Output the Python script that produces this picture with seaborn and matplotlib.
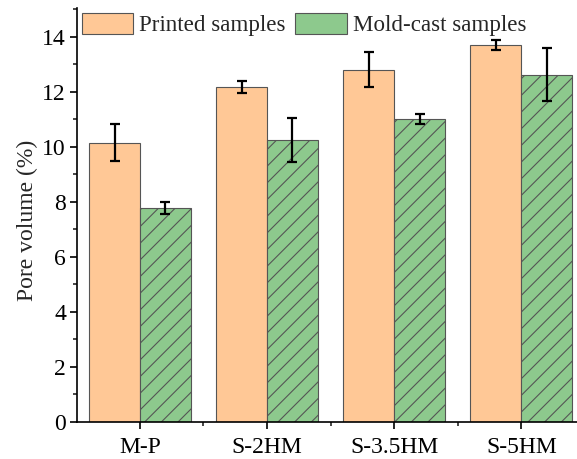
import numpy as np
import pandas as pd
import matplotlib
matplotlib.use("Agg")
import matplotlib.pyplot as plt
import seaborn as sns
from matplotlib.ticker import MultipleLocator

categories = ["M-P", "S-2HM", "S-3.5HM", "S-5HM"]
series_names = ["Printed samples", "Mold-cast samples"]
printed_values = [10.16, 12.18, 12.81, 13.71]
printed_errors = [0.66, 0.22, 0.65, 0.17]
mold_values = [7.77, 10.24, 11.00, 12.63]
mold_errors = [0.22, 0.80, 0.18, 0.95]

sns.set_theme(style="ticks")
plt.rcParams["font.family"] = ["Liberation Serif", "DejaVu Serif"]
plt.rcParams["hatch.linewidth"] = 0.8
plt.rcParams["hatch.color"] = "#2f4a2f"

df = pd.DataFrame({
    "cat": categories * 2,
    "series": [series_names[0]] * 4 + [series_names[1]] * 4,
    "value": printed_values + mold_values,
})

fig = plt.figure(figsize=(5.77, 4.59), dpi=100)
ax = fig.add_axes([77 / 577, 1 - 422 / 459, 560 / 577, (422 - 8) / 459])

palette = {series_names[0]: "#FFC896", series_names[1]: "#8DC98D"}
sns.barplot(data=df, x="cat", y="value", hue="series", palette=palette,
            errorbar=None, width=0.8, saturation=1, edgecolor="#555555",
            linewidth=0.8, ax=ax)

bars_p = ax.containers[0]
bars_m = ax.containers[1]
for p in bars_m.patches:
    p.set_hatch("//")

for bars, vals, errs in [(bars_p, printed_values, printed_errors),
                         (bars_m, mold_values, mold_errors)]:
    xs = [p.get_x() + p.get_width() / 2 for p in bars.patches]
    ax.errorbar(xs, vals, yerr=errs, fmt="none", ecolor="black",
                elinewidth=1.6, capsize=3.8, capthick=1.6, zorder=5)

ax.set_ylim(0, 15.05)
ax.set_xlim(-0.495, 3.91)
ax.yaxis.set_major_locator(MultipleLocator(2))
ax.yaxis.set_minor_locator(MultipleLocator(1))
ax.set_xticks(range(len(categories)))
ax.set_xticklabels(categories)
ax.set_xticks([0.5, 1.5, 2.5], minor=True)
ax.tick_params(axis="both", which="major", direction="out", length=5,
               width=1.2, labelsize=17, colors="black", pad=3)
ax.tick_params(axis="x", which="major", pad=6)
ax.tick_params(axis="both", which="minor", direction="out", length=2.6,
               width=1.2)
for s in ["left", "bottom"]:
    ax.spines[s].set_linewidth(1.2)
    ax.spines[s].set_color("black")
ax.spines["top"].set_visible(False)
ax.spines["right"].set_visible(False)
ax.set_xlabel("")
ax.set_ylabel("Pore volume (%)", fontsize=17)
ax.yaxis.set_label_coords(-39 / 560, (422 - 220) / 414)

leg = ax.legend(loc="upper left", bbox_to_anchor=(0.0, 1.0), ncol=2,
                frameon=False, fontsize=16.6, handlelength=2.25, handleheight=1.07,
                handletextpad=0.25, columnspacing=0.4, borderaxespad=0.1,
                borderpad=0.1)
for h in leg.legend_handles:
    h.set_edgecolor("#555555")

fig.savefig("out.png", dpi=100)
